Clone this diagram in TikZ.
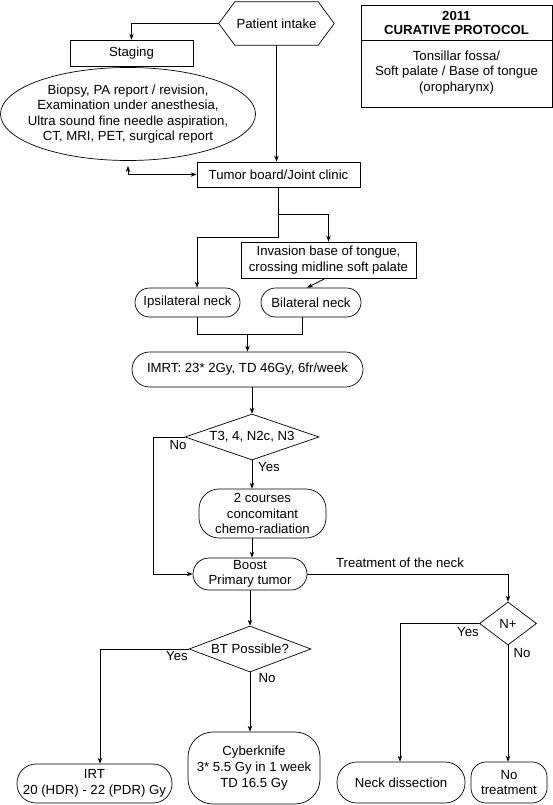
\documentclass[tikz,border=0pt]{standalone}
\usepackage{fontspec}
\setmainfont{Liberation Sans}
\usetikzlibrary{shapes.geometric,arrows.meta,calc}
\newcommand\diagfont{\fontsize{13.2}{15.6}\selectfont}
\begin{document}
\begin{tikzpicture}[x=1pt,y=-1pt,
  every node/.style={font=\diagfont, inner sep=0pt, align=center},
  box/.style={draw, rectangle, line width=0.7pt},
  pill/.style={draw, rectangle, rounded corners=#1, line width=0.7pt},
  dia/.style={draw, diamond, line width=0.7pt, aspect=#1},
  line/.style={line width=0.7pt},
  arr/.style={line width=0.7pt, -{Stealth[length=6pt,width=4.5pt]}}
]
\useasboundingbox (0,0) rectangle (553,805);

% top
\node[minimum width=115pt, minimum height=43pt] (intake) at (276.5,23.5) {Patient intake};
\draw[line] (intake.west) -- ($(intake.north west)+(16,0)$) -- ($(intake.north east)+(-16,0)$)
  -- (intake.east) -- ($(intake.south east)+(-16,0)$) -- ($(intake.south west)+(16,0)$) -- cycle;
\node[box, minimum width=123pt, minimum height=26pt] (staging) at (131.5,53) {Staging};
\node[draw, ellipse, line width=0.7pt, minimum width=255pt, minimum height=93pt] (exams) at (128,114) {};
\node (examtext) at (exams.center) {Biopsy, PA report / revision,\\Examination under anesthesia,\\Ultra sound fine needle aspiration,\\CT, MRI, PET, surgical report};
\node[box, minimum width=163pt, minimum height=25pt] (tumor) at (278.5,174.5) {Tumor board/Joint clinic};

% protocol box
\node[box, minimum width=191pt, minimum height=102pt] (proto) at (456.5,56) {};
\coordinate (div) at (0,40);
\draw[line] (proto.west |- div) -- (proto.east |- div);
\node[font=\bfseries\diagfont] (prototitle) at (456.5,23) {2011\\[-1pt]CURATIVE PROTOCOL};
\node (protobody) at (456.5,72.5) {Tonsillar fossa/\\Soft palate / Base of tongue\\(oropharynx)};

\node[box, minimum width=175pt, minimum height=36pt] (invasion) at (328.5,260) {Invasion base of tongue,\\crossing midline soft palate};
\node[pill=14.5pt, minimum width=105pt, minimum height=29pt] (ipsi) at (187.5,302.5) {Ipsilateral neck};
\node[pill=14.5pt, minimum width=100pt, minimum height=29pt] (bilat) at (311,302.5) {Bilateral neck};
\node[pill=17.5pt, minimum width=231pt, minimum height=35pt] (imrt) at (247.5,369.5) {IMRT: 23* 2Gy, TD 46Gy, 6fr/week};
\node[dia=2.9, minimum width=134pt, minimum height=46pt] (t3) at (252,437) {T3, 4, N2c, N3};
\node[pill=20pt, minimum width=127pt, minimum height=49pt] (chemo) at (262.5,513.5) {2 courses\\concomitant\\chemo-radiation};
\node[pill=16pt, minimum width=114pt, minimum height=32pt] (boost) at (250,574) {Boost\\Primary tumor};
\node[dia=2.65, minimum width=122pt, minimum height=46pt] (bt) at (250,649) {BT Possible?};
\node[pill=19pt, minimum width=155pt, minimum height=39pt] (irt) at (94.5,783.5) {IRT\\20 (HDR) - 22 (PDR) Gy};
\node[pill=25pt, minimum width=132pt, minimum height=72pt] (cyber) at (254,768) {Cyberknife\\3* 5.5 Gy in 1 week\\TD 16.5 Gy};
\node[dia=1.33, minimum width=57pt, minimum height=43pt] (nplus) at (508,623.5) {N+};
\node[pill=20pt, minimum width=128pt, minimum height=41pt] (neck) at (401,782.5) {Neck dissection};
\node[pill=15pt, minimum width=76pt, minimum height=41pt] (notreat) at (509,782.5) {No\\treatment};

% labels
\node (lno1) at (178,445) {No};
\node (lyes1) at (269,467) {Yes};
\node (lyes2) at (177,656) {Yes};
\node (lno2) at (267,678) {No};
\node (lyes3) at (468,632) {Yes};
\node (lno3) at (522,653) {No};
\node (ltreat) at (400,563) {Treatment of the neck};

% connectors
\draw[arr] (intake.west) -| (staging.north);
\draw[arr] (intake.south) -- (intake.south |- tumor.north);
\coordinate (bd) at (128,174.5);
\coordinate (bdtip) at (128,166);
\draw[arr] (bd) -- (tumor.west);
\draw[arr] (bd) -- (bdtip);

\coordinate (br) at (0,214);
\coordinate (ipsicorner) at (197,237);
\draw[arr] (tumor.south) -- (tumor.south |- ipsicorner) -- (ipsicorner) -- (ipsicorner |- ipsi.north);
\draw[arr] (tumor.south |- br) -| (invasion.north);
\draw[arr] ($(invasion.south)+(-3,0)$) -- ($(bilat.north)+(-4,0)$);

\coordinate (mL) at (197,334);
\coordinate (mR) at (302,334);
\draw[line] (mL |- ipsi.south) -- (mL) -- (mR) -- (mR |- bilat.south);
\draw[arr] (imrt.north |- mL) -- (imrt.north);

\draw[arr] (imrt.south -| t3.north) -- (t3.north);
\draw[arr] (t3.south) -- (t3.south |- chemo.north);
\draw[arr] (t3.south |- chemo.south) -- (t3.south |- boost.north);
\coordinate (nocorner) at (153,437);
\draw[arr] (t3.west) -- (nocorner) |- (boost.west);

\draw[arr] (boost.south -| bt.north) -- (bt.north);
\coordinate (yescorner) at (100,649);
\draw[arr] (bt.west) -- (yescorner) -- (yescorner |- irt.north);
\draw[arr] (bt.south) -- (bt.south |- cyber.north);

\coordinate (tcorner) at (508,574);
\draw[arr] (boost.east) -- (tcorner) -- (nplus.north);
\coordinate (ycorner) at (400,623.5);
\draw[arr] (nplus.west) -- (ycorner) -- (ycorner |- neck.north);
\draw[arr] (nplus.south) -- (nplus.south |- notreat.north);
\end{tikzpicture}
\end{document}
